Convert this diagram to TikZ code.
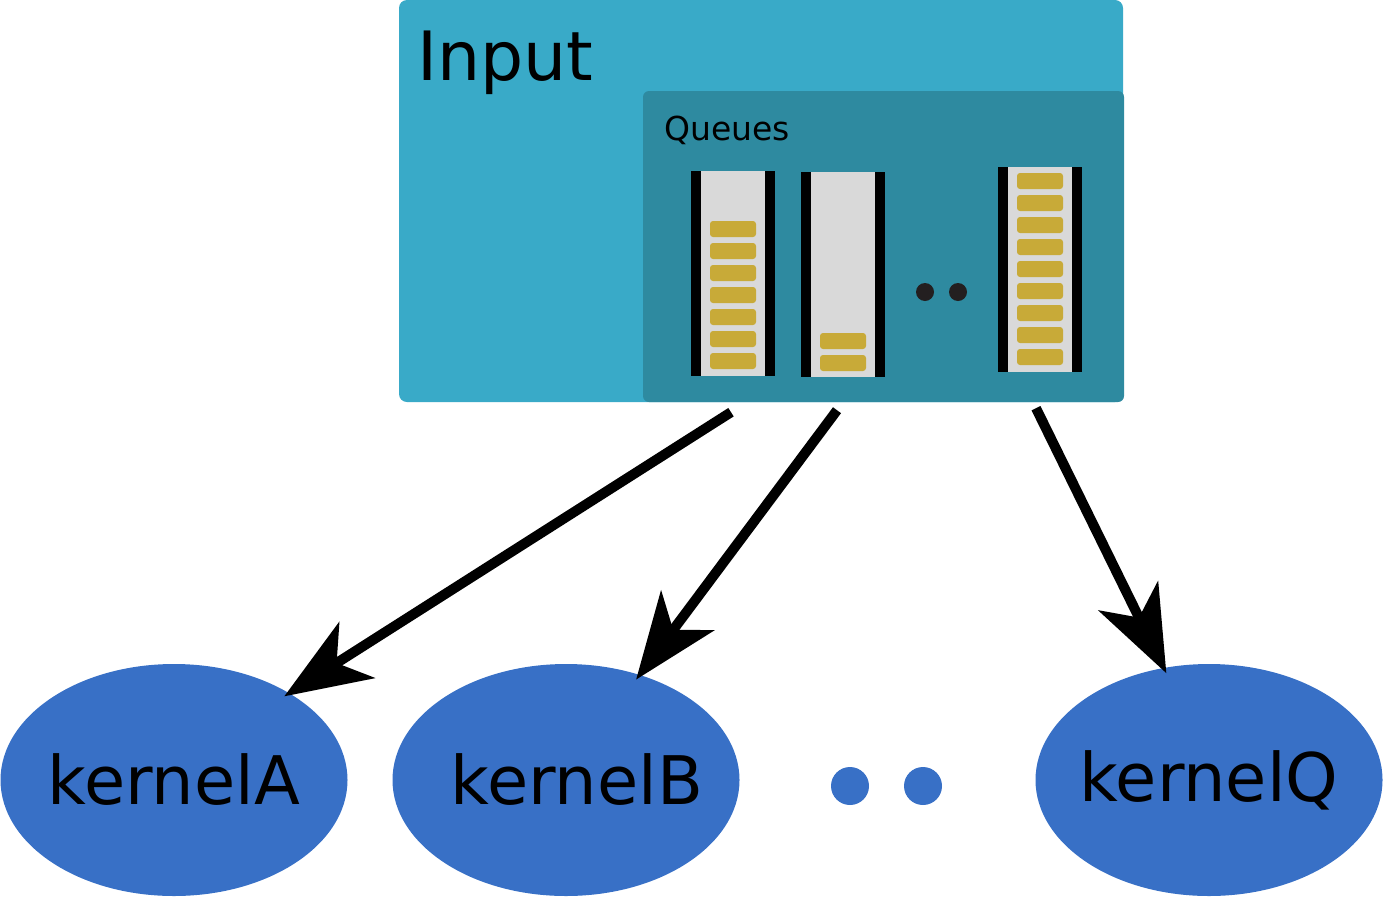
\documentclass[tikz,border=0pt]{standalone}
\usepackage{fontspec}
\setmainfont{DejaVu Sans}
\usepackage{tikz}
\usetikzlibrary{calc}
\usetikzlibrary{arrows.meta}
\usetikzlibrary{shapes.geometric}

\definecolor{inputblue}{HTML}{39AAC8}
\definecolor{queuesblue}{HTML}{2E8AA0}
\definecolor{slotgrey}{HTML}{D9D9D9}
\definecolor{itemgold}{HTML}{C8AA38}
\definecolor{kernelblue}{HTML}{3870C6}
\definecolor{dotdark}{HTML}{231F20}

\begin{document}
\begin{tikzpicture}[x=1pt, y=-1pt,
    queue/.style={rectangle, fill=black, minimum width=84pt, minimum height=205pt, inner sep=0pt},
    item/.style={fill=itemgold, rounded corners=3pt},
    kernel/.style={ellipse, fill=kernelblue, minimum width=347pt, minimum height=232pt,
        inner sep=0pt, font=\fontsize{67}{67}\selectfont},
    flow/.style={line width=10pt, shorten >=-6pt,
        -{Stealth[length=86pt, width=66pt, inset=24pt]}}]
    \useasboundingbox (0,0) rectangle (1383,897);

    % Input box
    \fill[inputblue, rounded corners=8pt] (399,0) rectangle (1123,402);
    \node[anchor=base west, inner sep=0pt, font=\fontsize{68}{68}\selectfont] (input) at (417,80) {Input};

    % Queues box
    \fill[queuesblue, rounded corners=6pt] (643,91) rectangle (1124,402);
    \node[anchor=base west, inner sep=0pt, font=\fontsize{33}{33}\selectfont] (queues) at (664,140) {Queues};

    \node[queue] (q1) at (733,273.5) {};
    \node[queue] (q2) at (843,274.5) {};
    \node[queue] (q3) at (1040,269.5) {};
    \foreach \q in {q1,q2,q3}
        \fill[slotgrey] ($(\q.north west)+(10,0)$) rectangle ($(\q.south east)+(-10,0)$);

    \foreach \i in {0,...,6}
        \fill[item] (710,221+22*\i) rectangle +(46,16);
    \foreach \i in {0,1}
        \fill[item] (820,333+22*\i) rectangle +(46,16);
    \foreach \i in {0,...,8}
        \fill[item] (1017,173+22*\i) rectangle +(46,16);

    \fill[dotdark] (925,292) circle (9);
    \fill[dotdark] (958,292) circle (9);

    % Kernels
    \node[kernel] (kernelA) at (174,780) {\makebox[0pt]{kernelA}};
    \node[kernel] (kernelB) at (566,780) {\makebox[0pt]{\hspace{22pt}kernelB}};
    \node[kernel] (kernelQ) at (1209,780) {\makebox[0pt]{kernelQ}};

    \fill[kernelblue] (850,786) circle (19);
    \fill[kernelblue] (923,786) circle (19);

    % Queue to kernel
    \coordinate (s1) at ($(q1.south)+(-2,36)$);
    \coordinate (s2) at ($(q2.south)+(-6,33)$);
    \coordinate (s3) at ($(q3.south)+(-4,36)$);
    \draw[flow] (s1) -- (kernelA.37);
    \draw[flow] (s2) -- (kernelB.55);
    \draw[flow] (s3) -- (kernelQ.112);
\end{tikzpicture}
\end{document}
